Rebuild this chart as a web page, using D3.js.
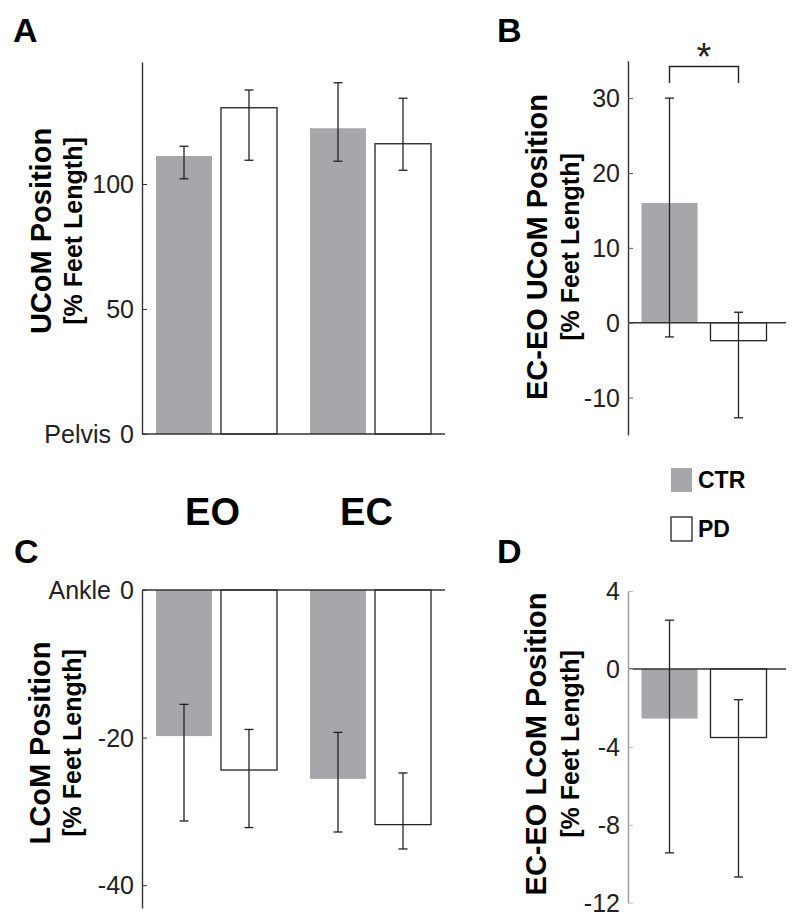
<!DOCTYPE html>
<html><head><meta charset="utf-8">
<script src="https://cdn.jsdelivr.net/npm/d3@7"></script>
<style>
body{margin:0;background:#fff;}
svg{font-family:"Liberation Sans",Arial,Helvetica,sans-serif;}
</style></head>
<body><svg id="c" width="800" height="924"></svg>
<script>
// ---- data ----
const conditions = ["EO","EC"];
const groups = ["CTR","PD"];
// Panel A: UCoM position
const uMean = {EO:[111.2,130.5], EC:[122.3,116.1]};
const uHi   = {EO:[115.1,137.6], EC:[140.5,134.3]};
const uLo   = {EO:[102.1,109.5], EC:[109.1,105.5]};
const uTicks = [0,50,100];
// Panel B: EC-EO UCoM
const bMean = [16.0,-2.4];
const bHi   = [30.0,1.4];
const bLo   = [-1.9,-12.7];
const bTicks = [-10,0,10,20,30];
// Panel C: LCoM position
const lMean = {EO:[-19.8,-24.4], EC:[-25.6,-31.8]};
const lHi   = {EO:[-15.5,-18.9], EC:[-19.3,-24.8]};
const lLo   = {EO:[-31.3,-32.2], EC:[-32.8,-35.1]};
const lTicks = [-40,-20,0];
// Panel D: EC-EO LCoM
const dMean = [-2.55,-3.52];
const dHi   = [2.5,-1.58];
const dLo   = [-9.44,-10.68];
const dTicks = [-12,-8,-4,0,4];

const svg = d3.select("#c");
const GRAY = "#a6a7ab";
const fills = {CTR:GRAY, PD:"#fff"};
const strokes = {CTR:"none", PD:"#222"};

function yAxis(g, y, ticks, x, labelFmt, color, tickColor){
  const ax = d3.axisRight(y).tickValues(ticks).tickSize(5).tickSizeOuter(0).tickFormat("");
  const a = g.append("g").attr("transform",`translate(${x},0)`).call(ax);
  a.select(".domain").attr("stroke",color).attr("stroke-width",1.4);
  a.selectAll(".tick line").attr("stroke",tickColor).attr("stroke-width",1);
  const tl = g.append("g");
  ticks.forEach(t=>{
    tl.append("text").attr("x",x-8).attr("y",y(t)).attr("dy","0.36em")
      .attr("text-anchor","end").attr("font-size",25).attr("fill","#222")
      .text(labelFmt(t));
  });
}
function errBar(g, cx, yHi, yLo){
  g.append("line").attr("x1",cx).attr("x2",cx).attr("y1",yHi).attr("y2",yLo).attr("stroke","#222").attr("stroke-width",1.3);
  [yHi,yLo].forEach(v=>g.append("line").attr("x1",cx-4.5).attr("x2",cx+4.5).attr("y1",v).attr("y2",v).attr("stroke","#222").attr("stroke-width",1.3));
}
function ylab(x1, x2, cy, t1, t2){
  svg.append("text").attr("transform",`translate(${x1},${cy}) rotate(-90)`).attr("text-anchor","middle")
    .attr("font-size",29).attr("font-weight","bold").attr("fill","#000").text(t1);
  svg.append("text").attr("transform",`translate(${x2},${cy}) rotate(-90)`).attr("text-anchor","middle")
    .attr("font-size",25).attr("font-weight","bold").attr("fill","#000").text(t2);
}
function letter(x,y,t){
  svg.append("text").attr("x",x).attr("y",y).attr("font-size",34).attr("font-weight","bold").text(t);
}

// ---- grouped panels (A, C) ----
const xOuter = d3.scaleBand().domain(conditions).range([142,445]).paddingInner(0.2143).paddingOuter(0.0909);
const xInner = d3.scaleBand().domain(groups).range([0,xOuter.bandwidth()]).paddingInner(0.1385).paddingOuter(0);

function groupedPanel(y, mean, hi, lo, axisX, baseY, x2end){
  const g = svg.append("g");
  conditions.forEach(c=>{
    groups.forEach((s,i)=>{
      const bx = xOuter(c)+xInner(s);
      const v = mean[c][i];
      g.append("rect").attr("x",bx).attr("width",xInner.bandwidth())
        .attr("y",Math.min(y(0),y(v))).attr("height",Math.abs(y(v)-y(0)))
        .attr("fill",fills[s]).attr("stroke",strokes[s]).attr("stroke-width",1.3);
      errBar(g, bx+xInner.bandwidth()/2, y(hi[c][i]), y(lo[c][i]));
    });
  });
  g.append("line").attr("x1",axisX).attr("x2",x2end).attr("y1",y(0)).attr("y2",y(0)).attr("stroke","#333").attr("stroke-width",1.4);
  return g;
}

// Panel A
const yA = d3.scaleLinear().domain([0,148.8]).range([434,62]);
groupedPanel(yA, uMean, uHi, uLo, 142, 434, 445);
yAxis(svg, yA, uTicks, 142, d=>d, "#333", "#333");
svg.append("text").attr("x",111).attr("y",yA(0)).attr("dy","0.36em").attr("text-anchor","end").attr("font-size",25).attr("fill","#222").text("Pelvis");
ylab(51, 82, 231, "UCoM Position", "[% Feet Length]");
letter(13,42,"A");

// Panel C
const yC = d3.scaleLinear().domain([-43.1,0]).range([908,590]);
groupedPanel(yC, lMean, lHi, lLo, 142, 590, 445);
yAxis(svg, yC, lTicks, 142, d=>d, "#333", "#333");
svg.append("text").attr("x",111).attr("y",yC(0)).attr("dy","0.36em").attr("text-anchor","end").attr("font-size",25).attr("fill","#222").text("Ankle");
ylab(50, 81, 743, "LCoM Position", "[% Feet Length]");
letter(14,563,"C");

// EO / EC labels
conditions.forEach(c=>{
  svg.append("text").attr("x",xOuter(c)+xOuter.bandwidth()/2-4).attr("y",525).attr("text-anchor","middle")
    .attr("font-size",38).attr("font-weight","bold").text(c);
});

// ---- difference panels (B, D) ----
const xDiff = d3.scaleBand().domain(groups).range([625,783]).paddingInner(0.188).paddingOuter(0.239);
function diffPanel(y, mean, hi, lo){
  const g = svg.append("g");
  groups.forEach((s,i)=>{
    const v = mean[i];
    g.append("rect").attr("x",xDiff(s)).attr("width",xDiff.bandwidth())
      .attr("y",Math.min(y(0),y(v))).attr("height",Math.abs(y(v)-y(0)))
      .attr("fill",fills[s]).attr("stroke",strokes[s]).attr("stroke-width",1.3);
  });
  g.append("line").attr("x1",628).attr("x2",786).attr("y1",y(0)).attr("y2",y(0)).attr("stroke","#333").attr("stroke-width",1.4);
  groups.forEach((s,i)=>errBar(g, xDiff(s)+xDiff.bandwidth()/2, y(hi[i]), y(lo[i])));
  return g;
}

// Panel B
const yB = d3.scaleLinear().domain([-15,35]).range([435,60.7]);
diffPanel(yB, bMean, bHi, bLo);
yAxis(svg, yB, bTicks, 628, d=>d, "#333", "#555");
ylab(547, 579, 247, "EC-EO UCoM Position", "[% Feet Length]");
letter(497,42,"B");
// significance bracket
{
  const c1 = xDiff("CTR")+xDiff.bandwidth()/2, c2 = xDiff("PD")+xDiff.bandwidth()/2;
  svg.append("path").attr("d",`M${c1},83 V66.5 H${c2} V83`).attr("fill","none").attr("stroke","#222").attr("stroke-width",1.4);
  svg.append("text").attr("x",(c1+c2)/2).attr("y",70).attr("text-anchor","middle").attr("font-size",38).attr("fill","#222").text("*");
}

// Panel D
const yD = d3.scaleLinear().domain([-12,4]).range([902.7,591]);
diffPanel(yD, dMean, dHi, dLo);
yAxis(svg, yD, dTicks, 628, d=>d, "#999", "#bbb");
ylab(546, 579, 744, "EC-EO LCoM Position", "[% Feet Length]");
letter(497,563,"D");

// Legend
const legY = [468, 517];
groups.forEach((s,i)=>{
  svg.append("rect").attr("x",671).attr("y",legY[i]).attr("width",21).attr("height",24)
    .attr("fill",fills[s]).attr("stroke",s==="PD"?"#222":"none").attr("stroke-width",1.3);
  svg.append("text").attr("x",698).attr("y",legY[i]+20).attr("font-size",23).attr("font-weight","bold").text(s);
});
</script></body></html>
